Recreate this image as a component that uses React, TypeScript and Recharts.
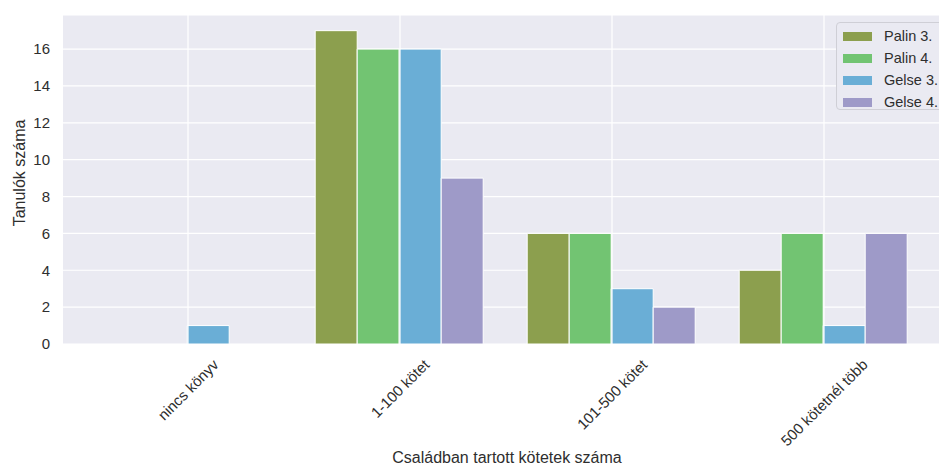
import React from "react";
import { BarChart, Bar, XAxis, YAxis, CartesianGrid, Legend } from "recharts";

const categories = ["nincs könyv", "1-100 kötet", "101-500 kötet", "500 kötetnél több"];
const palin3 = [0, 17, 6, 4];
const palin4 = [0, 16, 6, 6];
const gelse3 = [1, 16, 3, 1];
const gelse4 = [0, 9, 2, 6];
const seriesNames = ["Palin 3.", "Palin 4.", "Gelse 3.", "Gelse 4."];
const seriesColors = ["#8c9f4e", "#72c472", "#6aaed6", "#9e9ac8"];
const yTicks = [0, 2, 4, 6, 8, 10, 12, 14, 16];

const data = categories.map((c, i) => ({
  cat: c,
  s0: palin3[i],
  s1: palin4[i],
  s2: gelse3[i],
  s3: gelse4[i],
}));

const FONT = '"Liberation Sans", Arial, sans-serif';
const TEXT = "#2e2e2e";
const TICK_FS = 15;

let measureCtx: CanvasRenderingContext2D | null = null;
function textWidth(s: string, fs: number): number {
  if (!measureCtx) {
    const c = document.createElement("canvas");
    measureCtx = c.getContext("2d");
  }
  if (!measureCtx) return s.length * fs * 0.55;
  measureCtx.font = `${fs}px ${FONT}`;
  return measureCtx.measureText(s).width;
}

const XTick = (props: any) => {
  const { x, payload } = props;
  const label = String(payload.value);
  const w = textWidth(label, TICK_FS);
  const h = TICK_FS * 1.1;
  const side = (w + h) * Math.SQRT1_2;
  const cx = x;
  const cy = 356 + side / 2;
  return (
    <g>
      <line x1={x} x2={x} y1={15} y2={344} stroke="#ffffff" strokeWidth={1.2} />
      <text
        x={cx}
        y={cy}
        textAnchor="middle"
        dominantBaseline="central"
        transform={`rotate(-45, ${cx}, ${cy})`}
        fontSize={TICK_FS}
        fontFamily={FONT}
        fill={TEXT}
      >
        {label}
      </text>
    </g>
  );
};

const renderLegend = () => (
  <div
    style={{
      background: "#eaeaf2",
      border: "1px solid #cfcfd6",
      borderRadius: 4,
      width: 118,
      height: 88,
      boxSizing: "border-box",
      paddingTop: 2,
      fontFamily: FONT,
      fontSize: 14.5,
      color: TEXT,
    }}
  >
    {seriesNames.map((n, i) => (
      <div key={n} style={{ height: 22, display: "flex", alignItems: "center" }}>
        <div
          style={{
            marginLeft: 6,
            width: 29,
            height: 9,
            background: seriesColors[i],
          }}
        />
        <span style={{ marginLeft: 12, whiteSpace: "nowrap" }}>{n}</span>
      </div>
    ))}
  </div>
);

export default function App() {
  return (
    <div
      style={{
        position: "absolute",
        left: 0,
        top: 0,
        width: 939,
        height: 465,
        overflow: "hidden",
        background: "#ffffff",
      }}
    >
      <BarChart
        width={939}
        height={465}
        data={data}
        margin={{ top: 15, right: 0, bottom: 21, left: 0 }}
        barCategoryGap="10%"
        barGap={0}
      >
        <CartesianGrid stroke="#ffffff" strokeWidth={1.2} fill="#eaeaf2" vertical={false} />
        <XAxis
          dataKey="cat"
          height={100}
          padding={{ left: 19, right: 9 }}
          axisLine={false}
          tickLine={false}
          interval={0}
          tick={<XTick />}
          label={(p: any) => (
            <text
              x={507}
              y={457}
              textAnchor="middle"
              dominantBaseline="central"
              fontSize={16}
              fontFamily={FONT}
              fill={TEXT}
            >
              Családban tartott kötetek száma
            </text>
          )}
        />
        <YAxis
          width={63}
          domain={[0, 17.85]}
          ticks={yTicks}
          allowDataOverflow
          axisLine={false}
          tickLine={false}
          tickSize={0}
          tickMargin={13}
          tick={{ fontSize: TICK_FS, fontFamily: FONT, fill: TEXT }}
          label={(p: any) => (
            <text
              x={19}
              y={173}
              textAnchor="middle"
              dominantBaseline="central"
              transform="rotate(-90, 19, 173)"
              fontSize={16}
              fontFamily={FONT}
              fill={TEXT}
            >
              Tanulók száma
            </text>
          )}
        />
        <Legend
          layout="vertical"
          align="center"
          verticalAlign="middle"
          content={renderLegend}
          wrapperStyle={{ position: "absolute", top: 22, left: 836, width: 118, height: 88 }}
        />
        <Bar dataKey="s0" name={seriesNames[0]} fill={seriesColors[0]} stroke="#ffffff" strokeWidth={1} isAnimationActive={false} />
        <Bar dataKey="s1" name={seriesNames[1]} fill={seriesColors[1]} stroke="#ffffff" strokeWidth={1} isAnimationActive={false} />
        <Bar dataKey="s2" name={seriesNames[2]} fill={seriesColors[2]} stroke="#ffffff" strokeWidth={1} isAnimationActive={false} />
        <Bar dataKey="s3" name={seriesNames[3]} fill={seriesColors[3]} stroke="#ffffff" strokeWidth={1} isAnimationActive={false} />
      </BarChart>
    </div>
  );
}
